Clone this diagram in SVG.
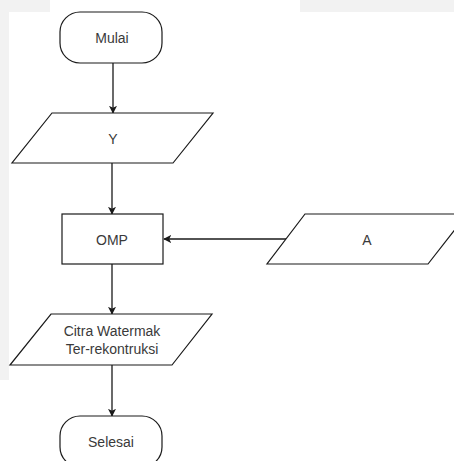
<svg xmlns="http://www.w3.org/2000/svg" width="454" height="461" viewBox="0 0 454 461">
<style>
.s{fill:#fff;stroke:#1a1a1a;stroke-width:1.2}
.t{font-family:"Liberation Sans",Arial,sans-serif;font-size:14px;fill:#3a3a3a;text-anchor:middle;dominant-baseline:central}
.c{stroke:#1a1a1a;stroke-width:1.3;fill:none;marker-end:url(#ah)}
</style>
<defs>
<marker id="ah" viewBox="0 0 10 10" refX="9" refY="5" markerWidth="8" markerHeight="8" markerUnits="userSpaceOnUse" orient="auto">
<path d="M0,0 L10,5 L0,10 L2.5,5 z" fill="#1a1a1a"/>
</marker>
</defs>
<rect width="454" height="461" fill="#fff"/>
<rect x="0" y="0" width="50" height="12" fill="#f2f2f2"/>
<rect x="300" y="0" width="154" height="12" fill="#f2f2f2"/>
<rect x="0" y="12" width="9" height="368" fill="#f2f2f2"/>
<g id="connectors">
<line class="c" x1="113" y1="63" x2="113" y2="113"/>
<line class="c" x1="112" y1="163" x2="112" y2="214"/>
<line class="c" x1="286" y1="239" x2="164" y2="239"/>
<line class="c" x1="112" y1="264" x2="112" y2="314"/>
<line class="c" x1="112" y1="365" x2="112" y2="416"/>
</g>
<g id="mulai">
<rect class="s" x="60" y="12" width="102" height="51" rx="20"/>
<text class="t" x="112" y="38">Mulai</text>
</g>
<g id="y">
<polygon class="s" points="52,113 213,113 173,163 12,163"/>
<text class="t" x="113" y="139">Y</text>
</g>
<g id="omp">
<rect class="s" x="62" y="214" width="101" height="50"/>
<text class="t" x="112" y="240">OMP</text>
</g>
<g id="a">
<polygon class="s" points="305,214 467,214 428,264 267,264"/>
<text class="t" x="367" y="240">A</text>
</g>
<g id="citra">
<polygon class="s" points="51,314 212,314 172,365 10,365"/>
<text class="t" x="112" y="331">Citra Watermak</text>
<text class="t" x="112" y="349">Ter-rekontruksi</text>
</g>
<g id="selesai">
<rect class="s" x="60" y="416" width="102" height="51" rx="20"/>
<text class="t" x="111" y="442">Selesai</text>
</g>
</svg>
